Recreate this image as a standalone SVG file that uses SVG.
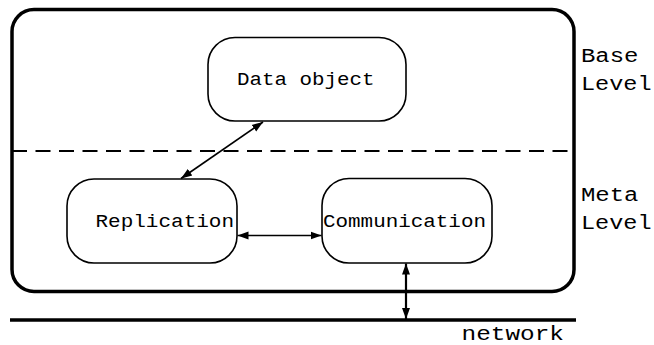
<svg xmlns="http://www.w3.org/2000/svg" width="654" height="345" viewBox="0 0 654 345">
  <style>
    .box { fill: #ffffff; stroke: #000000; stroke-width: 1.6; }
    .frame { fill: none; stroke: #000000; stroke-width: 3.5; }
    .divider { fill: none; stroke: #000000; stroke-width: 2; stroke-dasharray: 15 8.5; }
    .wire { fill: none; stroke: #000000; stroke-width: 3.5; }
    .link { fill: none; stroke: #000000; stroke-width: 1.6; marker-start: url(#tip); marker-end: url(#tip); }
    .link2 { fill: none; stroke: #000000; stroke-width: 2.2; marker-start: url(#tip); marker-end: url(#tip); }
    .label { font-family: "Liberation Mono", "Courier New", monospace; font-size: 18px; fill: #000000; }
    .side { font-family: "Liberation Mono", "Courier New", monospace; font-size: 20px; fill: #000000; }
  </style>
  <defs>
    <marker id="tip" markerUnits="userSpaceOnUse" markerWidth="12" markerHeight="10" refX="11" refY="5" orient="auto-start-reverse" viewBox="0 0 12 10">
      <path d="M0,1 L11,5 L0,9 Z" fill="#000000"/>
    </marker>
  </defs>

  <!-- system frame and level divider -->
  <g id="system">
    <rect class="frame" x="12" y="9.5" width="562" height="282" rx="22" ry="22"/>
    <line class="divider" x1="12" y1="151" x2="574" y2="151"/>
  </g>

  <!-- network bus -->
  <g id="network">
    <line class="wire" x1="10" y1="320" x2="576" y2="320"/>
    <text class="side" x="461.5" y="340" textLength="102.5" lengthAdjust="spacingAndGlyphs">network</text>
  </g>

  <!-- level captions -->
  <g id="base-level">
    <text class="side" x="581" y="61.5" textLength="57.5" lengthAdjust="spacingAndGlyphs">Base</text>
    <text class="side" x="581" y="90" textLength="70.5" lengthAdjust="spacingAndGlyphs">Level</text>
  </g>
  <g id="meta-level">
    <text class="side" x="581" y="200.5" textLength="57.5" lengthAdjust="spacingAndGlyphs">Meta</text>
    <text class="side" x="581" y="228.5" textLength="70.5" lengthAdjust="spacingAndGlyphs">Level</text>
  </g>

  <!-- nodes -->
  <g id="data-object">
    <rect class="box" x="208" y="37.5" width="198" height="83.5" rx="27" ry="27"/>
    <text class="label" x="237" y="85" textLength="137.5" lengthAdjust="spacingAndGlyphs">Data object</text>
  </g>
  <g id="replication">
    <rect class="box" x="67" y="179" width="170" height="84" rx="27" ry="27"/>
    <text class="label" x="95.5" y="226.5" textLength="138.5" lengthAdjust="spacingAndGlyphs">Replication</text>
  </g>
  <g id="communication">
    <rect class="box" x="322" y="178.5" width="170" height="84.5" rx="27" ry="27"/>
    <text class="label" x="323" y="226.5" textLength="163" lengthAdjust="spacingAndGlyphs">Communication</text>
  </g>

  <!-- connectors -->
  <g id="connectors">
    <line class="link" x1="181" y1="178.5" x2="263" y2="122"/>
    <line class="link" x1="237.5" y1="235.5" x2="321.5" y2="235.5"/>
    <line class="link2" x1="406" y1="263.5" x2="406" y2="319"/>
  </g>
</svg>
